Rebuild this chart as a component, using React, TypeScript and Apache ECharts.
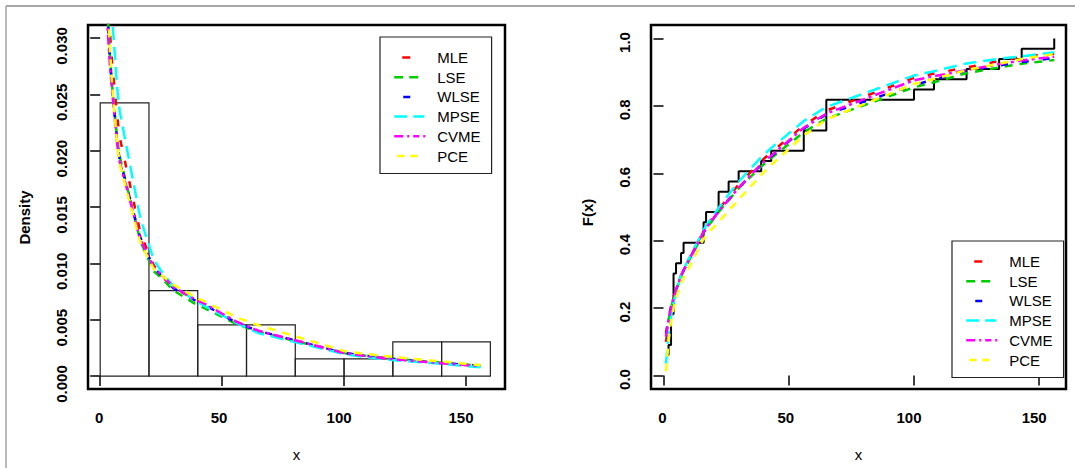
import React, { useEffect, useRef } from 'react';
import * as echarts from 'echarts';

// ---------- data ----------
const methods = ['MLE', 'LSE', 'WLSE', 'MPSE', 'CVME', 'PCE'];

const histBreaks = [0, 20, 40, 60, 80, 100, 120, 140, 160];
const histDensity = [0.02424, 0.007576, 0.004545, 0.004545, 0.001515, 0.001515, 0.00303, 0.00303];

const curveX = [1, 2, 3, 4, 5, 7, 8, 16, 17, 22, 26, 30, 39, 43, 56, 65, 100, 108, 121, 134, 143, 156];

const pdfMLE = [0.06, 0.04, 0.034, 0.0305, 0.0275, 0.023, 0.0212, 0.0132, 0.0124, 0.0098, 0.0087, 0.0079, 0.0067, 0.0063, 0.0048, 0.004, 0.00205, 0.0018, 0.0015, 0.00125, 0.0011, 0.00088];
const pdfLSE = [0.07, 0.042, 0.0325, 0.0285, 0.0255, 0.021, 0.0195, 0.0124, 0.0117, 0.0093, 0.0085, 0.0076, 0.0064, 0.006, 0.0046, 0.0039, 0.00205, 0.00182, 0.00152, 0.00128, 0.00112, 0.00092];
const pdfWLSE = [0.072, 0.043, 0.032, 0.028, 0.0252, 0.0207, 0.0192, 0.0126, 0.012, 0.0096, 0.0087, 0.0078, 0.0067, 0.0063, 0.0047, 0.004, 0.00205, 0.00181, 0.0015, 0.00125, 0.0011, 0.00089];
const pdfMPSE = [0.07, 0.05, 0.04, 0.035, 0.0315, 0.0255, 0.0235, 0.0145, 0.0136, 0.0103, 0.009, 0.008, 0.0067, 0.0062, 0.0047, 0.0038, 0.00195, 0.0017, 0.0014, 0.00118, 0.00103, 0.00077];
const pdfCVME = [0.075, 0.043, 0.031, 0.0275, 0.025, 0.0205, 0.019, 0.0125, 0.0119, 0.0096, 0.0088, 0.0079, 0.0068, 0.0064, 0.0048, 0.004, 0.00205, 0.0018, 0.00148, 0.00124, 0.0011, 0.00088];
const pdfPCE = [0.08, 0.045, 0.0335, 0.029, 0.0255, 0.0205, 0.0188, 0.0122, 0.0116, 0.0095, 0.0088, 0.0081, 0.007, 0.0066, 0.0052, 0.0045, 0.00222, 0.00198, 0.00168, 0.0014, 0.00124, 0.00095];

const cdfMLE = [0.1, 0.16, 0.2, 0.23, 0.255, 0.298, 0.315, 0.428, 0.44, 0.492, 0.53, 0.567, 0.636, 0.662, 0.742, 0.786, 0.883, 0.896, 0.914, 0.933, 0.945, 0.955];
const cdfLSE = [0.12, 0.165, 0.2, 0.228, 0.253, 0.293, 0.31, 0.423, 0.435, 0.485, 0.52, 0.555, 0.62, 0.645, 0.722, 0.762, 0.855, 0.87, 0.897, 0.914, 0.925, 0.936];
const cdfWLSE = [0.125, 0.17, 0.205, 0.232, 0.255, 0.295, 0.312, 0.426, 0.437, 0.487, 0.522, 0.557, 0.625, 0.65, 0.733, 0.775, 0.862, 0.878, 0.905, 0.92, 0.93, 0.942];
const cdfMPSE = [0.035, 0.12, 0.175, 0.215, 0.248, 0.298, 0.316, 0.432, 0.445, 0.497, 0.537, 0.575, 0.648, 0.675, 0.755, 0.797, 0.89, 0.903, 0.926, 0.94, 0.947, 0.959];
const cdfCVME = [0.116, 0.165, 0.2, 0.23, 0.255, 0.295, 0.312, 0.426, 0.437, 0.487, 0.522, 0.557, 0.627, 0.652, 0.735, 0.777, 0.876, 0.888, 0.906, 0.924, 0.935, 0.946];
const cdfPCE = [0.012, 0.1, 0.16, 0.2, 0.23, 0.275, 0.29, 0.405, 0.417, 0.455, 0.49, 0.522, 0.595, 0.625, 0.712, 0.76, 0.865, 0.88, 0.906, 0.925, 0.939, 0.954];

const ecdfX = [1, 2, 3, 4, 5, 7, 8, 16, 17, 22, 26, 30, 39, 43, 56, 65, 100, 108, 121, 134, 143, 156];
const ecdfCount = [2, 3, 6, 10, 11, 12, 13, 15, 16, 18, 19, 20, 21, 22, 24, 27, 28, 29, 30, 31, 32, 33];
const sampleSize = 33;

const xTicks = [0, 50, 100, 150];
const densityTicks = [0, 0.005, 0.01, 0.015, 0.02, 0.025, 0.03];
const cdfTicks = [0, 0.2, 0.4, 0.6, 0.8, 1.0];

// ---------- styles ----------
const colors = ['#FF0000', '#00CD00', '#0000FF', '#00FFFF', '#FF00FF', '#FFFF00'];
const dashes = [[7, 14], [8, 7], [7, 14], [13, 7], [10, 4, 3, 4], [8, 7]];
// legend key patterns (a leading zero-length dash lets a key start with a gap)
const legendDash = [
  [0, 8, 8, 40],
  [9, 6, 9, 30],
  [0, 9, 7, 40],
  [13, 6, 11, 30],
  [9, 4, 2, 4, 6, 4, 2, 30],
  [0, 3, 7, 6, 7, 30],
];
const FONT = 'Liberation Sans, Arial, Helvetica, sans-serif';

const pdfs = [pdfMLE, pdfLSE, pdfWLSE, pdfMPSE, pdfCVME, pdfPCE];
const cdfs = [cdfMLE, cdfLSE, cdfWLSE, cdfMPSE, cdfCVME, cdfPCE];

// R-like label placement: labels start where R put them, so longer labels sit slightly off-centre
const xLabelRich = {
  w1: { padding: [0, 2, 0, 0] },
  w2: { padding: [0, 6, 0, 0] },
  w3: { padding: [0, 10, 0, 0] },
};
const xLabelFormatter = (v: number) => {
  const s = String(v);
  return `{w${s.length}|${s}}`;
};

function makeXAxis(grid: number, min: number, max: number, withLabels: boolean, withName: boolean) {
  return {
    type: 'value', gridIndex: grid, min, max,
    name: withName ? 'x' : '', nameLocation: 'middle', nameGap: 58,
    nameTextStyle: { fontFamily: FONT, fontSize: 15, color: '#000' },
    axisLine: { show: false },
    splitLine: { show: false },
    axisTick: { show: true, customValues: xTicks, length: 10, lineStyle: { color: '#000', width: 1.5 } },
    axisLabel: {
      show: withLabels, customValues: xTicks, margin: 21, fontFamily: FONT, fontSize: 15, fontWeight: 'bold', color: '#000',
      formatter: xLabelFormatter, rich: xLabelRich, hideOverlap: false,
    },
  };
}

function makeYAxis(grid: number, min: number, max: number, ticks: number[], digits: number, name: string, labelShift: number, nameShift: number) {
  return {
    type: 'value', gridIndex: grid, min, max,
    name, nameLocation: 'middle', nameGap: 56,
    nameTextStyle: { fontFamily: FONT, fontSize: 15, fontWeight: 'bold', color: '#000', padding: [0, nameShift, 0, 0] },
    axisLine: { show: false },
    splitLine: { show: false },
    axisTick: { show: true, customValues: ticks, length: 10, lineStyle: { color: '#000', width: 1.5 } },
    axisLabel: {
      customValues: ticks, rotate: 90, margin: 19, fontFamily: FONT, fontSize: 15, fontWeight: 'bold', color: '#000',
      padding: [0, labelShift, 0, 0],
      formatter: (v: number) => v.toFixed(digits),
    },
  };
}

function makeLegend(left: number, top: number) {
  return {
    orient: 'vertical', left, top,
    padding: [13, 11, 10, 13],
    itemWidth: 38, itemHeight: 14, itemGap: 4.7,
    borderColor: '#222', borderWidth: 1.2, backgroundColor: '#fff',
    itemStyle: { opacity: 0 },
    textStyle: { fontFamily: FONT, fontSize: 15, color: '#000' },
    data: methods.map((m, i) => ({
      name: m,
      lineStyle: { color: colors[i], width: 2.5, type: legendDash[i] },
    })),
    selectedMode: false,
  };
}

export default function App() {
  const ref = useRef<HTMLDivElement>(null);
  useEffect(() => {
    if (!ref.current) return;
    const chart = echarts.init(ref.current, undefined, { renderer: 'svg' });

    const series: any[] = [];
    series.push({
      type: 'custom', xAxisIndex: 0, yAxisIndex: 0, silent: true, z: 1,
      data: histDensity.map((d, i) => [histBreaks[i], histBreaks[i + 1], d]),
      encode: { x: [0, 1], y: 2 },
      renderItem: (params: any, api: any) => {
        const p0 = api.coord([api.value(0), api.value(2)]);
        const p1 = api.coord([api.value(1), 0]);
        return {
          type: 'rect',
          shape: { x: p0[0], y: p0[1], width: p1[0] - p0[0], height: p1[1] - p0[1] },
          style: { fill: 'none', stroke: '#222', lineWidth: 1.2 },
        };
      },
    });
    methods.forEach((m, i) => {
      series.push({
        name: m, type: 'line', xAxisIndex: 0, yAxisIndex: 0, z: 3 + i,
        data: curveX.map((x, k) => [x, pdfs[i][k]]),
        symbol: 'none', showSymbol: false, clip: true, silent: true,
        lineStyle: { color: colors[i], width: 2.5, type: dashes[i] },
        itemStyle: { color: colors[i] },
      });
    });
    series.push({
      name: 'ECDF', type: 'line', xAxisIndex: 1, yAxisIndex: 1, z: 2, step: 'end',
      data: ecdfX.map((x, k) => [x, ecdfCount[k] / sampleSize]),
      symbol: 'none', showSymbol: false, silent: true,
      lineStyle: { color: '#000', width: 2 },
    });
    methods.forEach((m, i) => {
      series.push({
        name: m, type: 'line', xAxisIndex: 1, yAxisIndex: 1, z: 3 + i,
        data: curveX.map((x, k) => [x, cdfs[i][k]]),
        symbol: 'none', showSymbol: false, clip: true, silent: true,
        lineStyle: { color: colors[i], width: 2.5, type: dashes[i] },
        itemStyle: { color: colors[i] },
      });
    });

    // right panel: x range -5 .. 160.7 over 415 px; helper axis for its labels spans 0..150 exactly
    const rightPxPerUnit = 415 / (160.7 + 5);

    chart.setOption({
      animation: false,
      backgroundColor: '#fff',
      grid: [
        { left: 88, top: 25, width: 417, height: 364, show: true, borderColor: '#000', borderWidth: 2.5, backgroundColor: 'transparent' },
        { left: 651, top: 25, width: 415, height: 364, show: true, borderColor: '#000', borderWidth: 2.5, backgroundColor: 'transparent' },
        { left: 651 + 5 * rightPxPerUnit, top: 25, width: 150 * rightPxPerUnit, height: 364, show: false },
      ],
      xAxis: [
        makeXAxis(0, -5, 166, true, true),
        makeXAxis(1, -5, 160.7, false, true),
        {
          ...makeXAxis(2, 0, 150, true, false),
          interval: 50,
          axisTick: { show: false },
        },
      ],
      yAxis: [
        makeYAxis(0, -0.00115, 0.03115, densityTicks, 3, 'Density', 16, 21),
        makeYAxis(1, -0.04, 1.04, cdfTicks, 1, 'F(x)', 8, 11),
        { type: 'value', gridIndex: 2, show: false, min: 0, max: 1 },
      ],
      legend: [makeLegend(380, 37), makeLegend(952, 241)],
      graphic: [
        { type: 'line', shape: { x1: 6, y1: 6, x2: 1075, y2: 6 }, style: { stroke: '#8a8a8a', lineWidth: 1.5 }, silent: true },
        { type: 'line', shape: { x1: 6, y1: 6, x2: 6, y2: 468 }, style: { stroke: '#8a8a8a', lineWidth: 1.2 }, silent: true },
      ],
      series,
    });
    return () => chart.dispose();
  }, []);
  return <div ref={ref} style={{ position: 'absolute', left: 0, top: 0, width: 1075, height: 468 }} />;
}
